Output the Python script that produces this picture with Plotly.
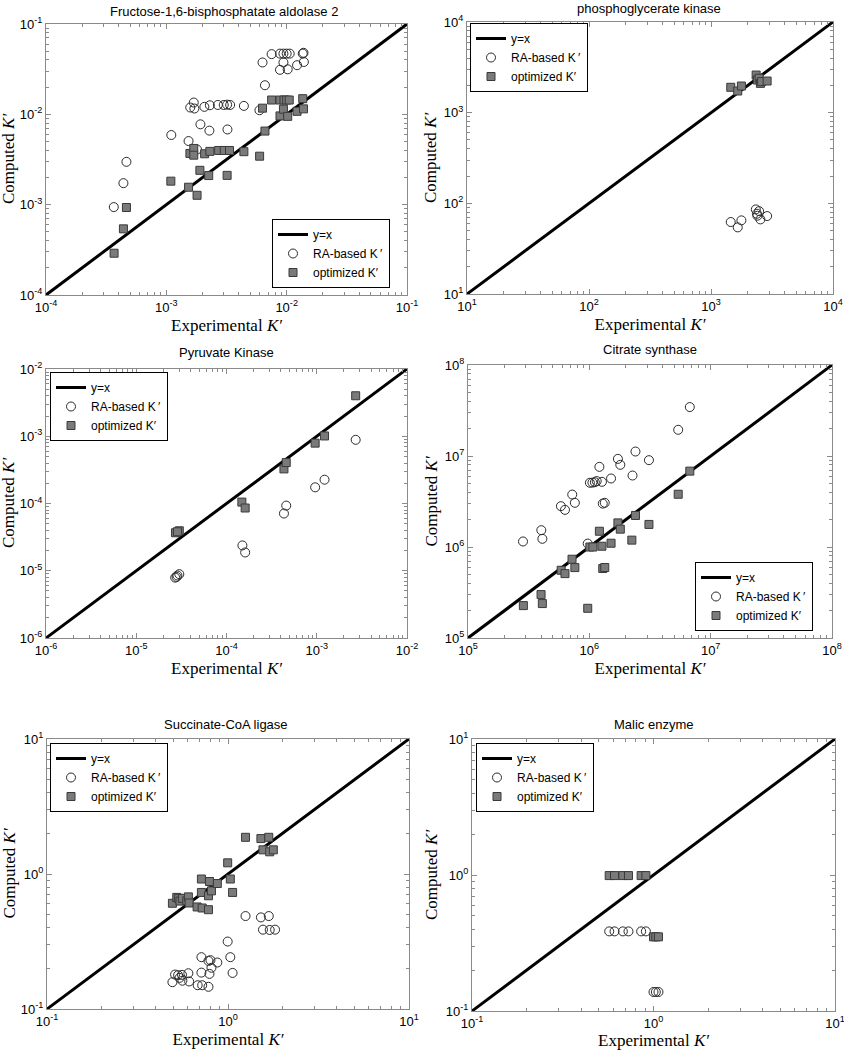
import plotly.graph_objects as go

W, H = 844, 1050

# ---------------- data ----------------
titles = ["Fructose-1,6-bisphosphatate aldolase 2", "phosphoglycerate kinase",
          "Pyruvate Kinase", "Citrate synthase", "Succinate-CoA ligase", "Malic enzyme"]

# axis decades (exponents) per panel
p1_exps = [-4, -3, -2, -1]
p2_exps = [1, 2, 3, 4]
p3_exps = [-6, -5, -4, -3, -2]
p4_exps = [5, 6, 7, 8]
p5_exps = [-1, 0, 1]
p6_exps = [-1, 0, 1]

p1_ra_x = [3.66e-4, 4.4e-4, 4.66e-4, 1.10e-3, 1.53e-3, 1.80e-3, 1.58e-3, 1.69e-3, 1.71e-3, 2.07e-3,
           2.30e-3, 2.68e-3, 3.0e-3, 3.2e-3, 3.39e-3, 4.41e-3, 1.92e-3, 2.28e-3, 3.22e-3, 5.94e-3,
           6.6e-3, 6.3e-3, 7.5e-3, 8.8e-3, 9.4e-3, 1.0e-2, 1.06e-2, 8.8e-3, 9.4e-3, 1.02e-2,
           1.22e-2, 1.36e-2, 1.38e-2, 1.39e-2]
p1_ra_y = [9.4e-4, 1.73e-3, 2.98e-3, 5.9e-3, 5.06e-3, 4.08e-3, 1.19e-2, 1.35e-2, 1.16e-2, 1.21e-2,
           1.26e-2, 1.27e-2, 1.27e-2, 1.28e-2, 1.27e-2, 1.24e-2, 7.75e-3, 6.6e-3, 6.8e-3, 1.11e-2,
           2.10e-2, 3.75e-2, 4.64e-2, 4.7e-2, 4.7e-2, 4.7e-2, 4.7e-2, 3.11e-2, 3.75e-2, 3.15e-2,
           3.5e-2, 4.7e-2, 4.8e-2, 3.8e-2]
p1_op_x = [3.68e-4, 4.4e-4, 4.66e-4, 1.09e-3, 1.53e-3, 1.80e-3, 1.57e-3, 1.69e-3, 1.69e-3, 2.08e-3,
           2.30e-3, 1.90e-3, 2.25e-3, 2.72e-3, 3.03e-3, 3.35e-3, 3.2e-3, 4.41e-3, 5.96e-3, 6.6e-3,
           6.3e-3, 7.5e-3, 8.8e-3, 9.5e-3, 1.0e-2, 1.05e-2, 8.8e-3, 9.4e-3, 1.02e-2, 1.22e-2,
           1.36e-2, 1.38e-2]
p1_op_y = [2.9e-4, 5.4e-4, 9.3e-4, 1.82e-3, 1.56e-3, 1.27e-3, 3.69e-3, 4.19e-3, 3.53e-3, 3.66e-3,
           3.89e-3, 2.40e-3, 2.10e-3, 3.98e-3, 3.98e-3, 3.98e-3, 2.11e-3, 3.86e-3, 3.44e-3, 6.53e-3,
           1.17e-2, 1.44e-2, 1.44e-2, 1.44e-2, 1.44e-2, 1.44e-2, 9.6e-3, 1.14e-2, 9.5e-3, 1.08e-2,
           1.49e-2, 1.15e-2]

p2_ra_x = [1452, 1656, 1775, 2330, 2380, 2480, 2400, 2541, 2884]
p2_ra_y = [62.2, 54.3, 64.9, 85.7, 76.8, 82, 73, 66.5, 72.4]
p2_op_x = [1452, 1656, 1775, 2344, 2400, 2480, 2541, 2600, 2884]
p2_op_y = [1905, 1734, 1968, 2600, 2290, 2400, 2104, 2200, 2233]

p3_ra_x = [2.7e-5, 2.86e-5, 3.0e-5, 2.8e-5, 1.5e-4, 1.61e-4, 4.33e-4, 4.59e-4, 9.6e-4, 1.22e-3, 2.70e-3]
p3_ra_y = [7.9e-6, 8.5e-6, 8.9e-6, 8.1e-6, 2.38e-5, 1.87e-5, 7.1e-5, 9.3e-5, 1.74e-4, 2.26e-4, 8.85e-4]
p3_op_x = [2.72e-5, 3.0e-5, 2.86e-5, 1.48e-4, 1.61e-4, 4.33e-4, 4.59e-4, 9.6e-4, 1.22e-3, 2.70e-3]
p3_op_y = [3.67e-5, 3.93e-5, 3.8e-5, 1.05e-4, 8.57e-5, 3.27e-4, 4.06e-4, 7.9e-4, 1.01e-3, 4.0e-3]

p4_ra_x = [2.84e5, 4.02e5, 4.1e5, 5.83e5, 6.3e5, 7.23e5, 7.6e5, 9.7e5, 1.01e6, 1.06e6, 1.11e6, 1.15e6,
           1.21e6, 1.27e6, 1.29e6, 1.34e6, 1.51e6, 1.72e6, 1.80e6, 2.27e6, 2.40e6, 3.10e6, 5.40e6, 6.73e6]
p4_ra_y = [1.15e6, 1.53e6, 1.23e6, 2.81e6, 2.56e6, 3.77e6, 3.06e6, 1.09e6, 5.08e6, 5.1e6, 5.15e6, 5.3e6,
           7.6e6, 5.2e6, 3.0e6, 3.06e6, 5.66e6, 9.3e6, 8.0e6, 6.1e6, 1.12e7, 9.0e6, 1.94e7, 3.45e7]
p4_op_x = [2.86e5, 4.0e5, 4.1e5, 5.86e5, 6.3e5, 7.2e5, 7.6e5, 9.7e5, 1.01e6, 1.07e6, 1.21e6, 1.27e6,
           1.29e6, 1.34e6, 1.51e6, 1.72e6, 1.80e6, 2.24e6, 2.40e6, 3.10e6, 5.40e6, 6.73e6]
p4_op_y = [2.27e5, 3.0e5, 2.39e5, 5.55e5, 5.1e5, 7.34e5, 5.94e5, 2.12e5, 1.0e6, 1.0e6, 1.49e6, 1.02e6,
           5.8e5, 5.95e5, 1.10e6, 1.84e6, 1.57e6, 1.19e6, 2.22e6, 1.77e6, 3.8e6, 6.82e6]

p5_ra_x = [0.493, 0.51, 0.53, 0.54, 0.557, 0.56, 0.604, 0.61, 0.68, 0.713, 0.713, 0.72, 0.78, 0.78,
           0.79, 0.81, 0.80, 0.873, 0.996, 1.03, 1.06, 1.25, 1.52, 1.56, 1.68, 1.70, 1.82]
p5_ra_y = [0.158, 0.180, 0.178, 0.170, 0.179, 0.162, 0.184, 0.160, 0.150, 0.186, 0.242, 0.150, 0.227, 0.146,
           0.182, 0.202, 0.230, 0.221, 0.316, 0.242, 0.185, 0.488, 0.477, 0.387, 0.488, 0.385, 0.387]
p5_op_x = [0.493, 0.521, 0.534, 0.543, 0.56, 0.592, 0.604, 0.61, 0.675, 0.72, 0.713, 0.713, 0.78, 0.78,
           0.79, 0.81, 0.873, 0.996, 1.03, 1.06, 1.25, 1.52, 1.56, 1.68, 1.70, 1.78]
p5_op_y = [0.607, 0.671, 0.66, 0.63, 0.66, 0.633, 0.677, 0.61, 0.57, 0.56, 0.918, 0.73, 0.544, 0.69,
           0.88, 0.75, 0.85, 1.21, 0.918, 0.73, 1.87, 1.83, 1.51, 1.87, 1.46, 1.51]

p6_ra_x = [0.570, 0.61, 0.678, 0.728, 0.855, 0.908, 1.0, 1.03, 1.065]
p6_ra_y = [0.385, 0.385, 0.385, 0.385, 0.385, 0.385, 0.138, 0.138, 0.138]
p6_op_x = [0.570, 0.61, 0.678, 0.728, 0.855, 0.908, 1.0, 1.03, 1.065]
p6_op_y = [0.99, 0.99, 0.99, 0.99, 0.99, 0.99, 0.351, 0.351, 0.351]

panels = [
    (p1_exps, p1_ra_x, p1_ra_y, p1_op_x, p1_op_y),
    (p2_exps, p2_ra_x, p2_ra_y, p2_op_x, p2_op_y),
    (p3_exps, p3_ra_x, p3_ra_y, p3_op_x, p3_op_y),
    (p4_exps, p4_ra_x, p4_ra_y, p4_op_x, p4_op_y),
    (p5_exps, p5_ra_x, p5_ra_y, p5_op_x, p5_op_y),
    (p6_exps, p6_ra_x, p6_ra_y, p6_op_x, p6_op_y),
]

# ---------------- layout geometry (window pixels) ----------------
boxes = [(46, 407, 24, 295), (467, 833, 22, 294),
         (46, 407, 369, 638), (468, 832, 365, 638),
         (47, 409, 739, 1009), (472, 835, 739, 1011)]
legpos = [(272, 219), (470, 23), (50, 372), (695, 562), (50, 743), (476, 743)]
titlepos = [(224, 11), (649, 8), (227, 353), (650, 349), (226, 724), (653, 724)]
ytitle_x = [8.5, 431, 8.5, 431, 8.5, 431]


def fx(px):
    return px / W


def fy(py):
    return 1 - py / H


SANS = "Liberation Sans, Arial, sans-serif"
SERIF = "Liberation Serif, Times New Roman, serif"
FRAME = "#8a8a8a"

fig = go.Figure()
layout = dict(width=W, height=H, margin=dict(l=0, r=0, t=0, b=0, autoexpand=False),
              paper_bgcolor="white", plot_bgcolor="white", annotations=[])

for i, (exps, rx, ry, ox, oy) in enumerate(panels):
    n = i + 1
    xa = "x" if n == 1 else f"x{n}"
    ya = "y" if n == 1 else f"y{n}"
    lg = "legend" if n == 1 else f"legend{n}"
    lo, hi = 10.0 ** exps[0], 10.0 ** exps[-1]
    fig.add_trace(go.Scatter(x=[lo, hi], y=[lo, hi], mode="lines", name="y=x",
                             line=dict(color="black", width=3),
                             xaxis=xa, yaxis=ya, legend=lg))
    fig.add_trace(go.Scatter(x=rx, y=ry, mode="markers", name="RA-based K\u2009\u2032",
                             marker=dict(symbol="circle-open", size=9, color="#2b2b2b",
                                         line=dict(width=1)),
                             xaxis=xa, yaxis=ya, legend=lg))
    fig.add_trace(go.Scatter(x=ox, y=oy, mode="markers", name="optimized K\u2032",
                             marker=dict(symbol="square", size=8, color="#7a7a7a",
                                         line=dict(width=1, color="#3a3a3a")),
                             xaxis=xa, yaxis=ya, legend=lg))

    x0, x1, y0, y1 = boxes[i]
    tickvals = [10.0 ** e for e in exps]
    ticktext = [f"10<sup>{e}</sup>" for e in exps]
    common = dict(type="log", range=[exps[0], exps[-1]], tickvals=tickvals, ticktext=ticktext,
                  showgrid=False, zeroline=False, showline=True, linecolor=FRAME, linewidth=1,
                  mirror="allticks", ticks="inside", ticklen=5, tickcolor=FRAME, automargin=False,
                  ticklabeloverflow="allow",
                  tickfont=dict(family=SANS, size=13, color="black"),
                  minor=dict(ticks="inside", ticklen=3, tickcolor=FRAME, dtick="D1", showgrid=False))
    layout["xaxis" if n == 1 else f"xaxis{n}"] = dict(
        common, domain=[fx(x0), fx(x1)], anchor=ya,
        title=dict(text="Experimental <i>K\u2032</i>", standoff=5,
                   font=dict(family=SERIF, size=17, color="black")))
    layout["yaxis" if n == 1 else f"yaxis{n}"] = dict(
        common, domain=[fy(y1), fy(y0)], anchor=xa)
    # y-axis title placed as a rotated label at the reference's position
    layout["annotations"].append(dict(text="Computed <i>K\u2032</i>", textangle=-90,
                                      x=fx(ytitle_x[i]), y=fy((y0 + y1) / 2), xref="paper", yref="paper",
                                      xanchor="center", yanchor="middle", showarrow=False,
                                      font=dict(family=SERIF, size=17, color="black")))
    lx, ly = legpos[i]
    layout[lg] = dict(x=fx(lx), y=fy(ly), xanchor="left", yanchor="top",
                      bgcolor="white", bordercolor="black", borderwidth=1,
                      font=dict(family=SANS, size=12, color="black"),
                      itemwidth=30, tracegroupgap=0)
    tx, ty = titlepos[i]
    layout["annotations"].append(dict(text=titles[i], x=fx(tx), y=fy(ty), xref="paper", yref="paper",
                                      xanchor="center", yanchor="middle", showarrow=False,
                                      font=dict(family=SANS, size=13, color="black")))

fig.update_layout(**layout)
fig.write_html("out.html", config={"displayModeBar": False},
               post_script="document.body.style.margin='0';")
